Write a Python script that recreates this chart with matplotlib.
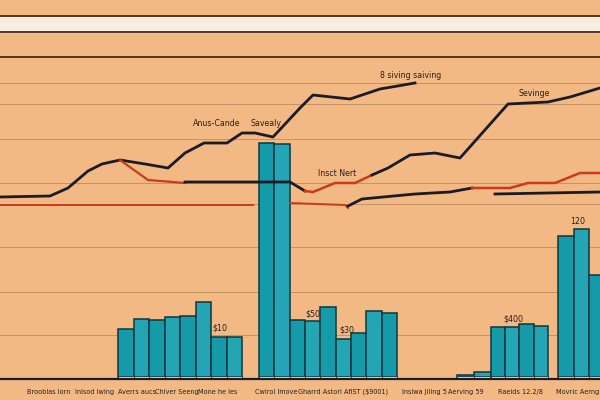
#!/usr/bin/env python
# savings overview chart - bars with trend lines on top

import numpy as np
import matplotlib.pyplot as plt

# ---------------- data ----------------
# bar heights per group
group1 = [50, 60, 59, 62, 63, 77, 42, 42]
group2 = [236, 235, 59, 58, 72, 40, 46, 68, 66]
group3a = [4, 7]
group3b = [52, 52, 55, 53]
group4 = [143, 150, 104]

# trend lines (x = period, y = value)
top_x = [0, 50, 68, 88, 102, 120, 145, 168, 185, 204, 227, 242, 255, 273, 300, 313, 350, 380, 415]
top_y = [182, 183, 191, 208, 215, 219, 215, 211, 226, 236, 236, 246, 246, 242, 271, 284, 280, 290, 296]

mid_red1_x = [120, 148, 185]
mid_red1_y = [219, 199, 196]
mid_blk1_x = [185, 290, 305]
mid_blk1_y = [197, 197, 188]
mid_red2_x = [305, 313, 335, 355, 372]
mid_red2_y = [188, 187, 196, 196, 204]
mid_blk2_x = [372, 388, 410, 435, 460, 508, 548, 570, 600]
mid_blk2_y = [204, 211, 224, 226, 221, 275, 277, 282, 291]

low_red1_x = [0, 253]
low_red1_y = [174, 174]
low_red2_x = [290, 345, 348]
low_red2_y = [176, 174, 171]
low_blk1_x = [348, 362, 415, 450, 472]
low_blk1_y = [173, 180, 185, 187, 191]
low_red3_x = [472, 510, 528, 555, 580, 600]
low_red3_y = [191, 191, 196, 196, 206, 206]
low_blk2_x = [495, 600]
low_blk2_y = [185, 187]

grid_levels = [296, 275, 240, 196, 175, 132, 87, 44]

xlabels = ['Brooblas lorn', 'Inlsod Iwing', 'Averrs aucs', 'Chiver Seeng', 'Mone he les',
           'Cwirol Imove', 'Gharrd Astorl AflST ($9001)', 'Insiwa Jiling 5', 'Aerving 59',
           'Raeids 12.2/8', 'Movric Aerng']

# ---------------- colours ----------------
bg = '#F2B984'
teal = '#159AA8'
teal2 = '#23A5B3'
edge = '#0E3640'
dark = '#1B1B26'
red = '#CC3A1E'
txt = '#2A2020'

fig = plt.figure(figsize=(6, 4), dpi=100)
fig.patch.set_facecolor(bg)
ax = fig.add_axes([0, 0, 1, 1])
ax.set_facecolor(bg)
ax.set_xlim(0, 600)
ax.set_ylim(-21, 379)
ax.axis('off')

# top band
ax.axhspan(347, 363, color='#F7EDE1', zorder=1)
for lv in (363, 347, 322):
    ax.axhline(lv, color='#4A2A18', lw=1.3, zorder=2)

# thin grid lines
for lv in grid_levels:
    ax.axhline(lv, color='#8A6040', lw=0.6, alpha=0.5, zorder=1)

# bars
def draw_group(start, width, heights):
    xs = start + width * np.arange(len(heights))
    cols = [teal if i % 2 == 0 else teal2 for i in range(len(heights))]
    ax.bar(xs, heights, width, align='edge', color=cols, edgecolor=edge, lw=1.1, zorder=3)
    ax.bar(xs, [min(3, h) for h in heights], width, align='edge', color='#BDEDF0',
           edgecolor=edge, lw=0.6, zorder=3)

draw_group(118, 15.5, group1)
draw_group(259, 15.35, group2)
draw_group(457, 17, group3a)
draw_group(491, 14.2, group3b)
draw_group(558, 15.5, group4)

# lines
ax.plot(top_x, top_y, color=dark, lw=2, zorder=4)
ax.plot(mid_red1_x, mid_red1_y, color=red, lw=1.6, zorder=4)
ax.plot(mid_blk1_x, mid_blk1_y, color=dark, lw=2, zorder=4)
ax.plot(mid_red2_x, mid_red2_y, color=red, lw=1.8, zorder=4)
ax.plot(mid_blk2_x, mid_blk2_y, color=dark, lw=2, zorder=4)
ax.plot(low_red1_x, low_red1_y, color=red, lw=1.4, zorder=4)
ax.plot(low_red2_x, low_red2_y, color=red, lw=1.4, zorder=4)
ax.plot(low_blk1_x, low_blk1_y, color=dark, lw=2, zorder=4)
ax.plot(low_red3_x, low_red3_y, color=red, lw=1.8, zorder=4)
ax.plot(low_blk2_x, low_blk2_y, color=dark, lw=2, zorder=4)

# baseline
ax.axhline(0, color=dark, lw=1.6, zorder=5)

# annotations
notes = [('Anus-Cande', 217, 256), ('Savealy', 266, 256), ('8 siving saiving', 411, 304),
         ('Sevinge', 534, 286), ('Insct Nert', 337, 206), ('$10', 220, 51), ('$50', 313, 65),
         ('$30', 347, 49), ('$400', 513, 60), ('120', 578, 158)]
for s, x, y in notes:
    ax.text(x, y, s, fontsize=6.3, fontstretch='condensed', ha='center', va='center', color=txt)

# category labels under the baseline
label_pos = [49, 95, 137, 177, 218, 276, 343, 424, 466, 521, 578]
for pos, lab in zip(label_pos, xlabels):
    ax.text(pos, -13, lab, fontsize=5.2, fontstretch='condensed', ha='center', va='center', color=txt)

fig.savefig('out.png', dpi=100, facecolor=bg)
